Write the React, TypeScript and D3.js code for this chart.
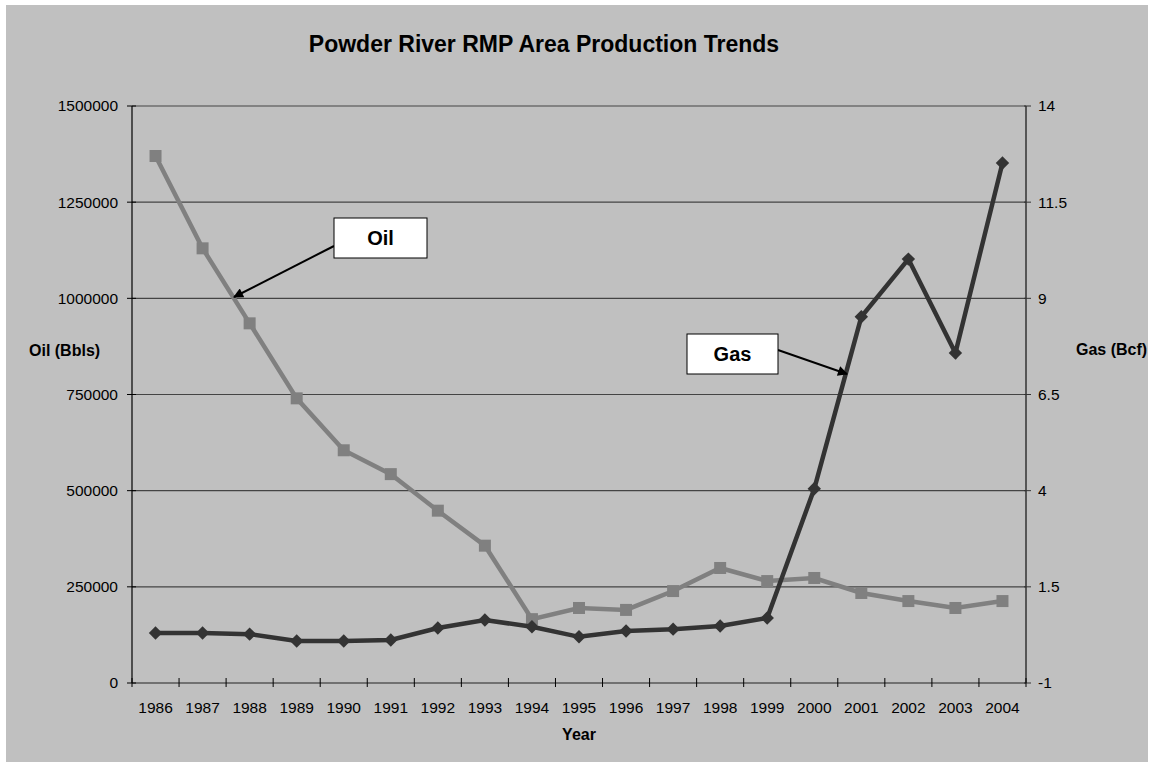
import React from "react";
import * as d3 from "d3";

const years = ["1986","1987","1988","1989","1990","1991","1992","1993","1994","1995","1996","1997","1998","1999","2000","2001","2002","2003","2004"];
const oilBbls = [1370000,1130000,935000,740000,605000,543000,448000,357000,166000,195000,190000,239000,299000,265000,273000,234000,213000,195000,213000];
const gasBcf = [0.30,0.30,0.27,0.09,0.09,0.12,0.43,0.64,0.46,0.20,0.35,0.40,0.48,0.69,4.05,8.52,10.02,7.58,12.52];
const leftTicks = [0,250000,500000,750000,1000000,1250000,1500000];
const rightTicks = [-1,1.5,4,6.5,9,11.5,14];

const W = 1153, H = 767;
const L = 132, R = 1026, T = 106, B = 683;
const FONT = "Arial, 'Liberation Sans', sans-serif";

export default function App() {
  const x = d3.scalePoint<string>().domain(years).range([L, R]).padding(0.5);
  const step = (R - L) / years.length;
  const yL = d3.scaleLinear().domain([0, 1500000]).range([B, T]);
  const yR = d3.scaleLinear().domain([-1, 14]).range([B, T]);

  const oilLine = d3.line<number>().x((_, i) => x(years[i])!).y(d => yL(d))(oilBbls)!;
  const gasLine = d3.line<number>().x((_, i) => x(years[i])!).y(d => yR(d))(gasBcf)!;

  const xTicks = d3.range(years.length + 1).map(k => L + step * k);
  const sym = d3.symbol().type(d3.symbolDiamond2).size(115)();

  return (
    <svg width={W} height={H} style={{ position: "absolute", left: 0, top: 0 }} fontFamily={FONT}>
      <defs>
        <marker id="ah" viewBox="0 0 10 10" refX="9" refY="5" markerWidth="11" markerHeight="10" orient="auto" markerUnits="userSpaceOnUse">
          <path d="M0,0 L10,5 L0,10 z" fill="#000" />
        </marker>
      </defs>
      <rect x={0} y={0} width={W} height={H} fill="#fff" />
      <rect x={6} y={5} width={1142} height={757} fill="#c0c0c0" />
      <text x={544} y={52} textAnchor="middle" fontSize={23} fontWeight="bold" fill="#000">Powder River RMP Area Production Trends</text>

      {leftTicks.filter(t => t > 0).map(t => (
        <line key={"g" + t} x1={L} x2={R} y1={yL(t)} y2={yL(t)} stroke="#444" strokeWidth={1.2} />
      ))}

      <line x1={L} x2={L} y1={T} y2={B} stroke="#000" strokeWidth={1.2} />
      <line x1={R} x2={R} y1={T} y2={B} stroke="#333" strokeWidth={1.5} />
      <line x1={L} x2={R} y1={B} y2={B} stroke="#222" strokeWidth={1.2} />

      {leftTicks.map(t => (
        <g key={"l" + t}>
          <line x1={L - 5} x2={L + 4} y1={yL(t)} y2={yL(t)} stroke="#000" />
          <text x={118} y={yL(t)} dy="0.35em" textAnchor="end" fontSize={15.5} fill="#000">{t}</text>
        </g>
      ))}
      {rightTicks.map(t => (
        <g key={"r" + t}>
          <line x1={R - 2} x2={R + 5} y1={yR(t)} y2={yR(t)} stroke="#333" />
          <text x={1038} y={yR(t)} dy="0.35em" textAnchor="start" fontSize={15.5} fill="#000">{t}</text>
        </g>
      ))}
      {xTicks.map((t, k) => (
        <line key={"x" + k} x1={t} x2={t} y1={B - 5} y2={B + 4} stroke="#000" />
      ))}
      {years.map(yr => (
        <text key={"t" + yr} x={x(yr)} y={713} textAnchor="middle" fontSize={15.5} fill="#000">{yr}</text>
      ))}

      <text x={29} y={356} fontSize={16} fontWeight="bold" fill="#000">Oil (Bbls)</text>
      <text x={1076} y={355} fontSize={16} fontWeight="bold" fill="#000">Gas (Bcf)</text>
      <text x={579} y={740} textAnchor="middle" fontSize={16} fontWeight="bold" fill="#000">Year</text>

      <path d={oilLine} fill="none" stroke="#808080" strokeWidth={4.5} />
      {oilBbls.map((v, i) => (
        <rect key={"o" + i} x={x(years[i])! - 6} y={yL(v) - 6} width={12} height={12} fill="#808080" />
      ))}

      <path d={gasLine} fill="none" stroke="#333" strokeWidth={4.5} />
      {gasBcf.map((v, i) => (
        <path key={"d" + i} d={sym} transform={`translate(${x(years[i])},${yR(v)})`} fill="#333" />
      ))}

      <line x1={334} y1={246} x2={234} y2={297} stroke="#000" strokeWidth={2} markerEnd="url(#ah)" />
      <rect x={334} y={218} width={93} height={40} fill="#fff" stroke="#000" strokeWidth={1} />
      <text x={380.5} y={238} dy="0.36em" textAnchor="middle" fontSize={20} fontWeight="bold" fill="#000">Oil</text>

      <line x1={778} y1={350} x2={847} y2={374} stroke="#000" strokeWidth={2} markerEnd="url(#ah)" />
      <rect x={687} y={334} width={91} height={40} fill="#fff" stroke="#000" strokeWidth={1} />
      <text x={732.5} y={354} dy="0.36em" textAnchor="middle" fontSize={20} fontWeight="bold" fill="#000">Gas</text>
    </svg>
  );
}
